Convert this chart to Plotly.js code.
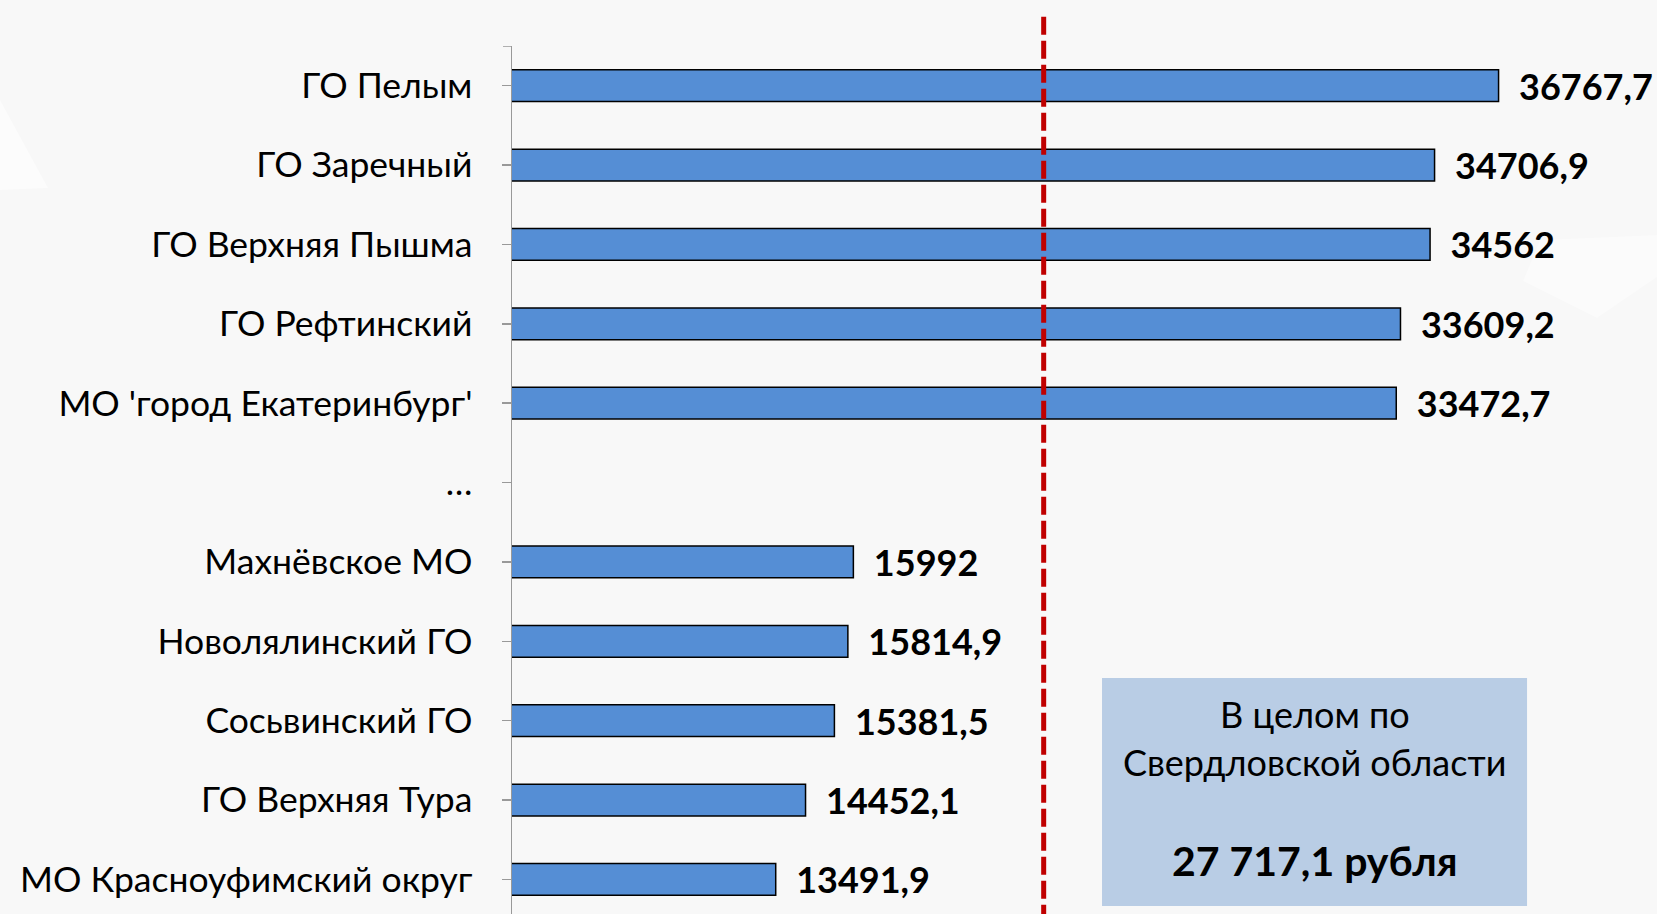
<!DOCTYPE html>
<html>
<head>
<meta charset="utf-8">
<script src="https://cdn.plot.ly/plotly-3.0.1.min.js"></script>
<style>
  html, body { margin: 0; padding: 0; background: #F8F8F8; }
  #chart { width: 1657px; height: 914px; }
</style>
</head>
<body>
<div id="chart"></div>
<script>
// Categories (top to bottom)
const categories = [
  "ГО Пелым",
  "ГО Заречный",
  "ГО Верхняя Пышма",
  "ГО Рефтинский",
  "МО 'город Екатеринбург'",
  "…",
  "Махнёвское МО",
  "Новолялинский ГО",
  "Сосьвинский ГО",
  "ГО Верхняя Тура",
  "МО Красноуфимский округ"
];
// Values (rubles)
const values = [36767.7, 34706.9, 34562, 33609.2, 33472.7, null, 15992, 15814.9, 15381.5, 14452.1, 13491.9];
// Dashed marker line position as it appears on the picture (value scale)
const markerLineX = 22120;
// Summary box text
const boxLine1 = "В целом по";
const boxLine2 = "Свердловской области";
const boxTotal = "27 717,1 рубля";
// Value axis range
const xRange = [5000, 41869];

const labels = values.map(v => v === null ? "" : "\u00a0\u00a0" + String(v).replace(".", ","));

const trace = {
  type: "bar",
  orientation: "h",
  y: categories,
  x: values,
  width: 0.4,
  marker: { color: "#558ED5", line: { color: "#000000", width: 1.5 } },
  text: labels,
  textposition: "outside",
  constraintext: "none",
  cliponaxis: false,
  textfont: { family: "Lato, 'Open Sans', sans-serif", size: 36, color: "#000000", weight: "bold" },
  hoverinfo: "skip"
};

// helpers to convert picture pixels to paper coordinates for background decoration
const PL = 512, PW = 1145, PB = 914, PH = 868;
const px = x => (x - PL) / PW;
const py = y => (PB - y) / PH;
const path = pts => "M" + pts.map(p => px(p[0]).toFixed(4) + "," + py(p[1]).toFixed(4)).join(" L") + " Z";

const layout = {
  width: 1657,
  height: 914,
  margin: { l: 512, r: 0, t: 46, b: 0, pad: 0 },
  paper_bgcolor: "#F8F8F8",
  plot_bgcolor: "rgba(0,0,0,0)",
  showlegend: false,
  font: { family: "Lato, 'Open Sans', sans-serif", color: "#000000" },
  xaxis: {
    range: xRange,
    visible: false,
    showgrid: false,
    zeroline: false,
    fixedrange: true
  },
  yaxis: {
    type: "category",
    categoryorder: "array",
    categoryarray: categories,
    range: [10.436, -0.5],
    showline: true,
    linecolor: "#999999",
    linewidth: 1.5,
    ticks: "outside",
    ticklen: 9,
    tickwidth: 1.5,
    tickcolor: "#999999",
    ticklabelstandoff: 22,
    tickfont: { family: "Lato, 'Open Sans', sans-serif", size: 35.5, color: "#000000" },
    showgrid: false,
    zeroline: false,
    fixedrange: true
  },
  shapes: [
    // faint background decorations
    { type: "path", xref: "paper", yref: "paper", path: path([[0, 100], [48, 188], [0, 190]]),
      fillcolor: "rgba(255,255,255,0.55)", line: { width: 0 }, layer: "below" },
    { type: "path", xref: "paper", yref: "paper", path: path([[1523, 281], [1597, 318], [1657, 277], [1657, 235], [1540, 240]]),
      fillcolor: "rgba(255,255,255,0.4)", line: { width: 0 }, layer: "below" },
    // small cap tick at the top end of the axis
    { type: "line", xref: "paper", yref: "y", x0: -9/1145, x1: 0, y0: -0.5, y1: -0.5,
      line: { color: "#999999", width: 1.5 } },
    // dashed red marker line
    { type: "line", xref: "x", yref: "paper", x0: markerLineX, x1: markerLineX, y0: -0.01, y1: 1.038,
      line: { color: "#C00000", width: 5, dash: "18px,6px" }, layer: "above" },
    // summary box
    { type: "rect", xref: "paper", yref: "paper", x0: 0.5153, x1: 0.8865, y0: 0.0092, y1: 0.2719,
      fillcolor: "#B9CDE5", line: { width: 0 }, layer: "above" }
  ],
  annotations: [
    { xref: "paper", yref: "paper", x: 0.7009, y: 0.2304, text: boxLine1, showarrow: false,
      font: { family: "Lato, 'Open Sans', sans-serif", size: 36, color: "#000000" }, xanchor: "center", yanchor: "middle" },
    { xref: "paper", yref: "paper", x: 0.7009, y: 0.1751, text: boxLine2, showarrow: false,
      font: { family: "Lato, 'Open Sans', sans-serif", size: 36, color: "#000000" }, xanchor: "center", yanchor: "middle" },
    { xref: "paper", yref: "paper", x: 0.7009, y: 0.0611, text: boxTotal, showarrow: false,
      font: { family: "Lato, 'Open Sans', sans-serif", size: 41, color: "#000000", weight: "bold" }, xanchor: "center", yanchor: "middle" }
  ]
};

Plotly.newPlot("chart", [trace], layout, { displayModeBar: false, staticPlot: true });
</script>
</body>
</html>
